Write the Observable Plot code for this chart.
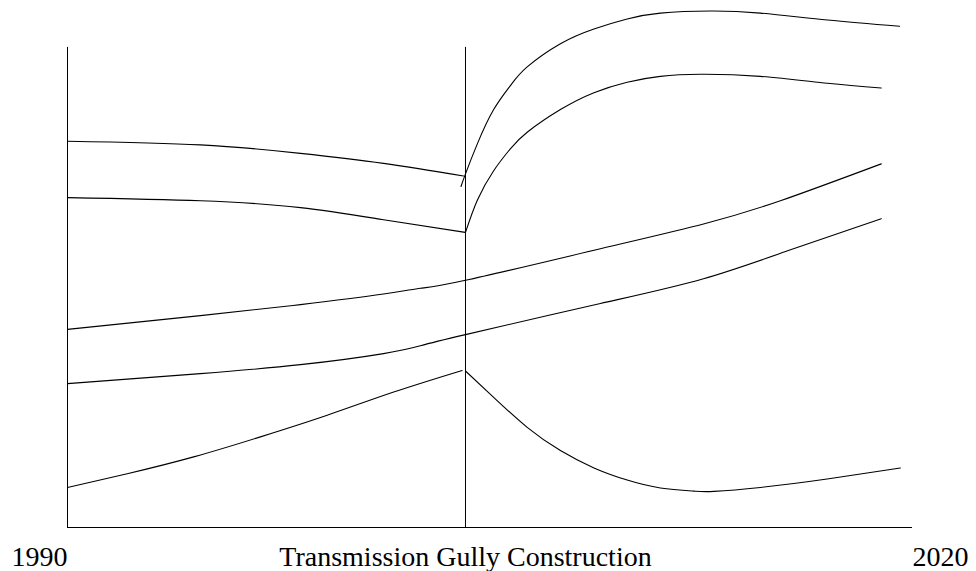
<!DOCTYPE html>
<html>
<head>
<meta charset="utf-8">
<script src="https://cdn.jsdelivr.net/npm/d3@7"></script>
<script src="https://cdn.jsdelivr.net/npm/@observablehq/plot@0.6"></script>
<style>
  html, body { margin: 0; padding: 0; background: #fff; }
  #chart { width: 976px; height: 571px; }
</style>
</head>
<body>
<div id="chart"></div>
<script>
// x values are years, y values are relative levels (0 = baseline)
const startYear = 1990;
const endYear = 2020;
const constructionYear = 2004.13;
const dividerTop = 91.1;

const startLabel = "1990";
const middleLabel = "Transmission Gully Construction";
const endLabel = "2020";

const line1Before = [[1990,73.3],[1994.72,72.6],[1998.27,71.0],[2001.22,69.1],[2004.06,66.7]];
const line1After = [[2003.97,64.7],[2004.13,67.1],[2004.55,72.8],[2005.13,79.3],[2005.73,83.9],[2006.32,87.4],[2007.50,91.8],[2008.69,94.6],[2009.87,96.5],[2011.05,97.6],[2012.83,98.0],[2014.60,97.6],[2016.98,96.3],[2019.54,95.1]];
const line2Before = [[1990,62.6],[1994.72,62.0],[1998.27,60.7],[2001.22,58.4],[2004.13,56.0]];
const line2After = [[2004.13,56.0],[2004.55,62.1],[2005.13,67.7],[2005.73,71.9],[2006.32,75.0],[2007.50,79.3],[2008.69,82.5],[2009.87,84.5],[2011.05,85.6],[2012.47,86.0],[2014.60,85.6],[2016.98,84.3],[2018.89,83.4]];
const line3 = [[1990,37.6],[1994.72,40.2],[1998.27,42.3],[2001.22,44.3],[2002.53,45.4],[2004.13,46.9],[2008.92,52.9],[2012.58,57.6],[2015.31,62.0],[2018.89,69.0]];
const line4 = [[1990,27.3],[1994.72,29.2],[1998.27,30.9],[2001.22,33.0],[2002.53,34.5],[2004.13,36.6],[2008.92,42.5],[2012.58,47.2],[2015.67,52.7],[2018.89,58.6]];
const line5Before = [[1990,7.6],[1992.12,10.2],[1994.48,13.4],[1996.85,17.2],[1999.22,21.3],[2001.58,25.7],[2004.01,29.8]];
const line5After = [[2004.13,29.7],[2005.13,24.7],[2006.32,19.0],[2007.50,14.6],[2008.69,11.3],[2009.87,9.0],[2011.05,7.5],[2012.24,6.9],[2012.95,6.85],[2014.60,7.6],[2016.97,9.2],[2019.57,11.3]];

const segments = {
  line1Before, line1After, line2Before, line2After, line3, line4, line5Before, line5After
};
const rows = Object.entries(segments).flatMap(([name, pts]) =>
  pts.map(([x, y]) => ({name, x, y}))
);

const labelStyle = {y: 0, lineAnchor: "bottom", dy: 38, fontSize: 28, fill: "#000"};

const chart = Plot.plot({
  width: 976,
  height: 571,
  marginLeft: 67,
  marginRight: 64,
  marginTop: 0,
  marginBottom: 44,
  x: {domain: [startYear, endYear], axis: null},
  y: {domain: [0, 100], axis: null},
  style: {background: "#fff", fontFamily: "'Liberation Serif', 'Times New Roman', serif"},
  marks: [
    Plot.ruleY([0], {stroke: "#000", strokeWidth: 1.2}),
    Plot.ruleX([startYear, constructionYear], {y1: 0, y2: dividerTop, stroke: "#000", strokeWidth: 1}),
    Plot.line(rows, {x: "x", y: "y", z: "name", curve: "natural", stroke: "#000", strokeWidth: 1.1}),
    Plot.text([startLabel], {...labelStyle, x: startYear, text: (d) => d, textAnchor: "end"}),
    Plot.text([middleLabel], {...labelStyle, x: constructionYear, text: (d) => d, textAnchor: "middle"}),
    Plot.text([endLabel], {...labelStyle, x: endYear, text: (d) => d, textAnchor: "start"})
  ]
});
document.getElementById("chart").appendChild(chart);
</script>
</body>
</html>
